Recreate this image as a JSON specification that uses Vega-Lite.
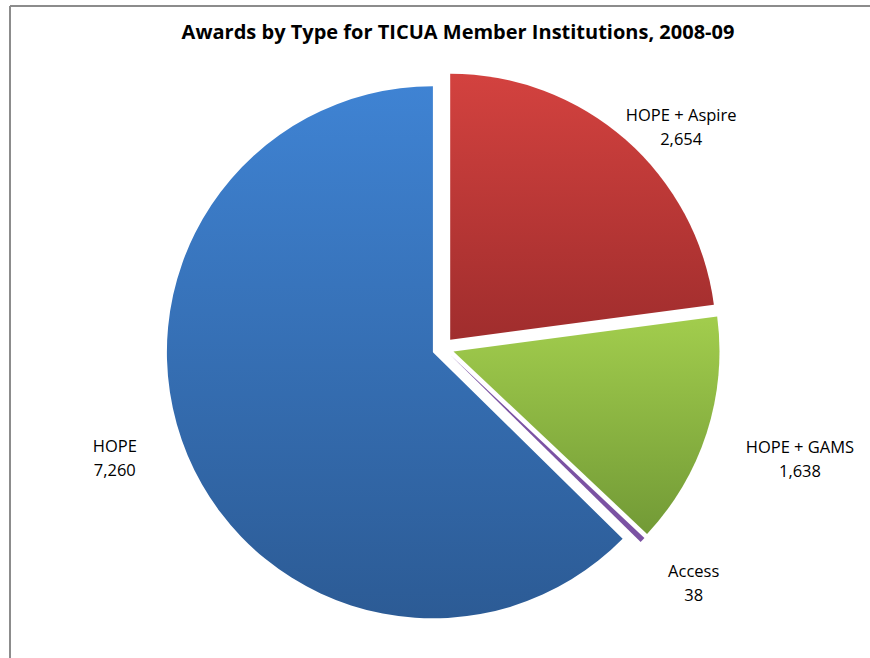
{
  "$schema": "https://vega.github.io/schema/vega-lite/v6.json",
  "width": 920,
  "height": 720,
  "autosize": "none",
  "padding": {"left": 10, "top": 6, "right": -60, "bottom": -68},
  "background": "white",
  "view": {"stroke": "#8c8c8c", "strokeWidth": 2, "strokeDash": [920, 1640, 720, 0]},
  "config": {"view": {"stroke": "#8c8c8c", "strokeWidth": 2}, "font": "Open Sans"},
  "title": {
    "text": "Awards by Type for TICUA Member Institutions, 2008-09",
    "font": "Open Sans", "fontSize": 20, "fontWeight": "bold", "color": "#000000",
    "anchor": "middle", "dx": -12, "offset": -47, "baseline": "middle"
  },
  "data": {
    "values": [
      {"type": "HOPE + Aspire", "value": 2654, "order": 1, "label": "HOPE + Aspire\n2,654"},
      {"type": "HOPE + GAMS", "value": 1638, "order": 2, "label": "HOPE + GAMS\n1,638"},
      {"type": "Access", "value": 38, "order": 3, "label": "Access\n38"},
      {"type": "HOPE", "value": 7260, "order": 4, "label": "HOPE\n7,260"}
    ]
  },
  "layer": [
    {
      "transform": [
        {"stack": "value", "groupby": [], "sort": [{"field": "order"}], "as": ["v0", "v1"]},
        {"filter": "datum.type === 'HOPE + Aspire'"}
      ],
      "mark": {"type": "arc", "outerRadius": 266, "xOffset": -19.8, "yOffset": -26.3,
        "fill": {"gradient": "linear", "x1": 0, "y1": 0, "x2": 0, "y2": 1,
          "stops": [{"offset": 0, "color": "#d3423f"}, {"offset": 1, "color": "#a02d2d"}]}},
      "encoding": {
        "theta": {"field": "v0", "type": "quantitative", "scale": {"domain": [0, 11590]}},
        "theta2": {"field": "v1"}
      }
    },
    {
      "transform": [
        {"stack": "value", "groupby": [], "sort": [{"field": "order"}], "as": ["v0", "v1"]},
        {"filter": "datum.type === 'HOPE + GAMS'"}
      ],
      "mark": {"type": "arc", "outerRadius": 266, "xOffset": -16.5, "yOffset": -14.6,
        "fill": {"gradient": "linear", "x1": 0, "y1": 0, "x2": 0, "y2": 1,
          "stops": [{"offset": 0, "color": "#a2cd4d"}, {"offset": 1, "color": "#729a36"}]}},
      "encoding": {
        "theta": {"field": "v0", "type": "quantitative", "scale": {"domain": [0, 11590]}},
        "theta2": {"field": "v1"}
      }
    },
    {
      "transform": [
        {"stack": "value", "groupby": [], "sort": [{"field": "order"}], "as": ["v0", "v1"]},
        {"filter": "datum.type === 'Access'"}
      ],
      "mark": {"type": "arc", "outerRadius": 266, "xOffset": -19.1, "yOffset": -10.4, "fill": "#7b52a3"},
      "encoding": {
        "theta": {"field": "v0", "type": "quantitative", "scale": {"domain": [0, 11590]}},
        "theta2": {"field": "v1"}
      }
    },
    {
      "transform": [
        {"stack": "value", "groupby": [], "sort": [{"field": "order"}], "as": ["v0", "v1"]},
        {"filter": "datum.type === 'HOPE'"}
      ],
      "mark": {"type": "arc", "outerRadius": 266, "xOffset": -37.1, "yOffset": -13.7,
        "fill": {"gradient": "linear", "x1": 0, "y1": 0, "x2": 0, "y2": 1,
          "stops": [{"offset": 0, "color": "#3f83d3"}, {"offset": 1, "color": "#2c5b95"}]}},
      "encoding": {
        "theta": {"field": "v0", "type": "quantitative", "scale": {"domain": [0, 11590]}},
        "theta2": {"field": "v1"}
      }
    },
    {
      "mark": {"type": "text", "radius": 322, "dx": -1, "dy": -8, "font": "Open Sans", "fontSize": 16.5,
        "lineBreak": "\n", "lineHeight": 24, "align": "center", "baseline": "middle", "color": "#000000"},
      "encoding": {
        "theta": {"field": "value", "type": "quantitative", "stack": true},
        "order": {"field": "order"},
        "text": {"condition": {"test": "datum.type === 'HOPE + Aspire'", "field": "label"}, "value": ""}
      }
    },
    {
      "mark": {"type": "text", "radius": 374, "dx": -26, "dy": -33, "font": "Open Sans", "fontSize": 16.5,
        "lineBreak": "\n", "lineHeight": 24, "align": "center", "baseline": "middle", "color": "#000000"},
      "encoding": {
        "theta": {"field": "value", "type": "quantitative", "stack": true},
        "order": {"field": "order"},
        "text": {"condition": {"test": "datum.type === 'HOPE + GAMS'", "field": "label"}, "value": ""}
      }
    },
    {
      "mark": {"type": "text", "radius": 341, "dx": -22, "dy": -30, "font": "Open Sans", "fontSize": 16.5,
        "lineBreak": "\n", "lineHeight": 24, "align": "center", "baseline": "middle", "color": "#000000"},
      "encoding": {
        "theta": {"field": "value", "type": "quantitative", "stack": true},
        "order": {"field": "order"},
        "text": {"condition": {"test": "datum.type === 'Access'", "field": "label"}, "value": ""}
      }
    },
    {
      "mark": {"type": "text", "radius": 344, "dx": -38, "dy": -52, "font": "Open Sans", "fontSize": 16.5,
        "lineBreak": "\n", "lineHeight": 24, "align": "center", "baseline": "middle", "color": "#000000"},
      "encoding": {
        "theta": {"field": "value", "type": "quantitative", "stack": true},
        "order": {"field": "order"},
        "text": {"condition": {"test": "datum.type === 'HOPE'", "field": "label"}, "value": ""}
      }
    }
  ]
}
